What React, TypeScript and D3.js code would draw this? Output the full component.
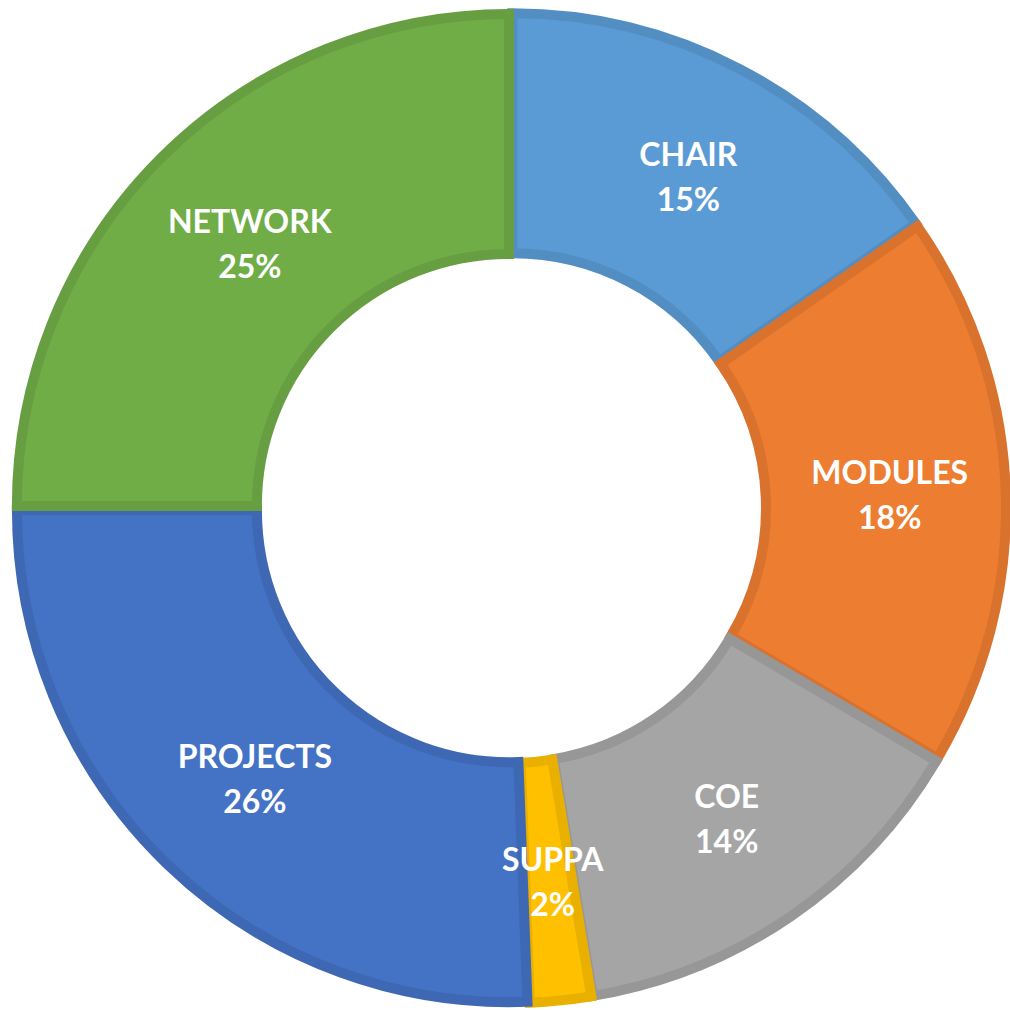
import React from "react";
import * as d3 from "d3";

const categories = ["CHAIR", "MODULES", "COE", "SUPPA", "PROJECTS", "NETWORK"];
const values = [15.3, 18.2, 13.9, 2.0, 25.6, 25.0];
const colors = ["#5B9BD5", "#ED7D31", "#A5A5A5", "#FFC000", "#4472C4", "#70AD47"];

const W = 1010;
const H = 1010;
const cx = 511;
const cy = 508;
const outerR = 492;
const innerR = 252;
const explode = 3;
const strokeW = 10;
const fontSize = 32;
const lineGap = 45;
const labelShiftX = 4;
const labelShiftY = 1;

export default function App() {
  const data = categories.map((c, i) => ({ name: c, value: values[i], color: colors[i] }));
  const total = d3.sum(values);
  const pie = d3.pie<any>().value((d: any) => d.value).sort(null);
  const arcs = pie(data);
  const arcGen = d3.arc<any>().innerRadius(innerR).outerRadius(outerR);
  const labelR = (outerR + innerR) / 2;
  const capH = fontSize * 0.72;

  return (
    <svg width={W} height={H} style={{ position: "absolute", left: 0, top: 0, background: "#fff" }}>
      <g transform={`translate(${cx},${cy})`}>
        {arcs.map((a, i) => {
          const mid = (a.startAngle + a.endAngle) / 2;
          const ox = Math.sin(mid) * explode;
          const oy = -Math.cos(mid) * explode;
          const stroke = d3.color(a.data.color)!.darker(0.25).formatHex();
          return (
            <path
              key={i}
              d={arcGen(a) as string}
              transform={`translate(${ox},${oy})`}
              fill={a.data.color}
              stroke={stroke}
              strokeWidth={strokeW}
              strokeLinejoin="miter"
            />
          );
        })}
        {arcs.map((a, i) => {
          const mid = (a.startAngle + a.endAngle) / 2;
          const x = Math.sin(mid) * (labelR + explode) + labelShiftX;
          const y = -Math.cos(mid) * (labelR + explode) + labelShiftY;
          const pct = Math.round((a.data.value / total) * 100) + "%";
          const y1 = y - lineGap / 2 + capH / 2;
          return (
            <text
              key={"t" + i}
              textAnchor="middle"
              fill="#fff"
              fontFamily="Lato, 'Open Sans', sans-serif"
              fontWeight="bold"
              fontSize={fontSize}
            >
              <tspan x={x} y={y1}>{a.data.name}</tspan>
              <tspan x={x} y={y1 + lineGap}>{pct}</tspan>
            </text>
          );
        })}
      </g>
    </svg>
  );
}
